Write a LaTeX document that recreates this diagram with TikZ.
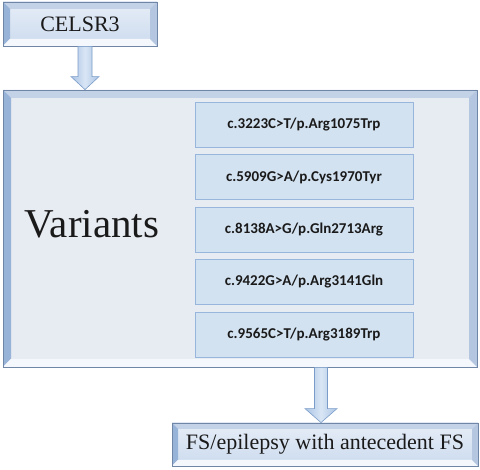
\documentclass[tikz,border=0pt]{standalone}
\usepackage{fontspec}
\setmainfont{Liberation Serif}
\newfontfamily\carlito{Carlito}
\usetikzlibrary{calc,shadows}
\definecolor{edgeblue}{HTML}{6F86A6}
\definecolor{bevTop}{HTML}{C3D2E7}
\definecolor{bevLeft}{HTML}{98B3D8}
\definecolor{bevBottom}{HTML}{F4F7FB}
\definecolor{bevRight}{HTML}{B4C6E0}
\definecolor{bigfill}{HTML}{E7EBF2}
\definecolor{boxtop}{HTML}{E6EDF7}
\definecolor{boxbot}{HTML}{CCDBEE}
\definecolor{innerfill}{HTML}{D3E2F1}
\definecolor{innerdraw}{HTML}{98B6DB}
\definecolor{arrfill}{HTML}{A9C3E4}
\definecolor{arrlight}{HTML}{D9E6F5}
\definecolor{arrdraw}{HTML}{7A9CC8}
\definecolor{txt}{HTML}{1A1A1A}
\tikzset{
  bevel/.style={path picture={
    \coordinate (bvNW) at (path picture bounding box.north west);
    \coordinate (bvNE) at (path picture bounding box.north east);
    \coordinate (bvSW) at (path picture bounding box.south west);
    \coordinate (bvSE) at (path picture bounding box.south east);
    \fill[bevTop] (bvNW) -- (bvNE) -- ([xshift=-#1,yshift=-#1]bvNE) -- ([xshift=#1,yshift=-#1]bvNW) -- cycle;
    \fill[bevLeft] (bvNW) -- ([xshift=#1,yshift=-#1]bvNW) -- ([xshift=#1,yshift=#1]bvSW) -- (bvSW) -- cycle;
    \fill[bevBottom] (bvSW) -- ([xshift=#1,yshift=#1]bvSW) -- ([xshift=-#1,yshift=#1]bvSE) -- (bvSE) -- cycle;
    \fill[bevRight] (bvSE) -- ([xshift=-#1,yshift=#1]bvSE) -- ([xshift=-#1,yshift=-#1]bvNE) -- (bvNE) -- cycle;
  }},
  outerbox/.style={draw=edgeblue, line width=0.8pt, top color=boxtop, bottom color=boxbot,
    drop shadow={opacity=0.35, shadow xshift=1.2pt, shadow yshift=-1.2pt},
    inner sep=0pt, font=\fontsize{22}{24}\selectfont, text=txt},
  bigbox/.style={draw=edgeblue, line width=0.8pt, fill=bigfill,
    drop shadow={opacity=0.35, shadow xshift=1.2pt, shadow yshift=-1.2pt}, inner sep=0pt},
  variant/.style={draw=innerdraw, line width=0.6pt, fill=innerfill, minimum width=218pt,
    minimum height=45pt, inner sep=0pt, text=txt,
    font=\carlito\bfseries\fontsize{15}{17}\selectfont},
  blockarr/.style={draw=arrdraw, line width=0.6pt, left color=arrfill, right color=arrfill,
    middle color=arrlight, line join=miter}
}
\newcommand{\blockarrow}[5]{% top, tip, half shaft, half head, head length
  \path[blockarr] ($(#1)+(-#3,0)$) -- ($(#2)+(-#3,-#5)$) -- ($(#2)+(-#4,-#5)$) -- (#2)
    -- ($(#2)+(#4,-#5)$) -- ($(#2)+(#3,-#5)$) -- ($(#1)+(#3,0)$) -- cycle;}
\begin{document}
\begin{tikzpicture}[x=1pt,y=-1pt]
\useasboundingbox (0,0) rectangle (480,470);
\node[bigbox, bevel=8pt, minimum width=474pt, minimum height=277pt] (big) at (240,228.5) {};
\node[outerbox, bevel=7pt, minimum width=154pt, minimum height=44pt] (celsr) at (80,24) {CELSR3};
\node[outerbox, bevel=6pt, minimum width=306pt, minimum height=43pt] (fs) at (325,444.5) {FS/epilepsy with antecedent FS};
\node[anchor=base, inner sep=0pt, text=txt, font=\fontsize{41}{44}\selectfont] (vartxt) at (92,238) {Variants};
\node[variant] (v1) at (304,124.5) {c.3223C>T/p.Arg1075Trp};
\node[variant] (v2) at (304,177) {c.5909G>A/p.Cys1970Tyr};
\node[variant] (v3) at (304,229.5) {c.8138A>G/p.Gln2713Arg};
\node[variant] (v4) at (304,282) {c.9422G>A/p.Arg3141Gln};
\node[variant] (v5) at (304,334.5) {c.9565C>T/p.Arg3189Trp};
\coordinate (a1top) at (celsr.south -| 85,0);
\coordinate (a1tip) at (big.north -| 85,0);
\coordinate (a2top) at (big.south -| 321,0);
\coordinate (a2tip) at (fs.north -| 321,0);
\blockarrow{a1top}{a1tip}{7}{14}{13}
\blockarrow{a2top}{a2tip}{6.5}{16}{14}
\end{tikzpicture}
\end{document}
